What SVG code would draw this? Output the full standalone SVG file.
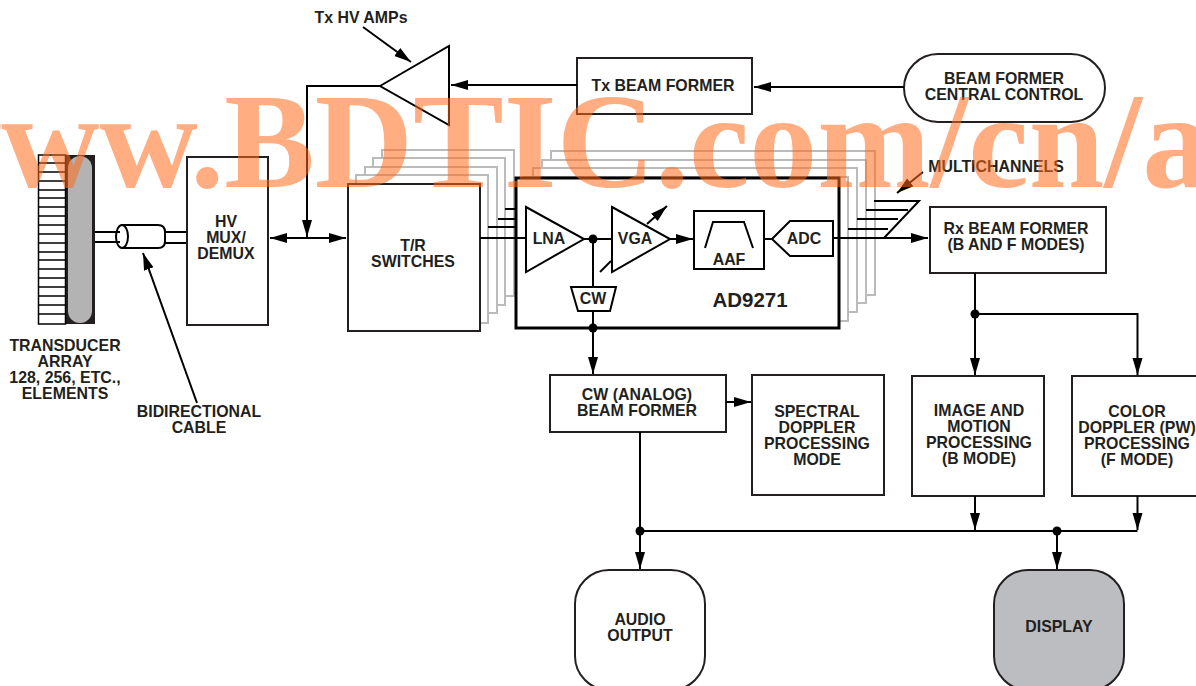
<svg xmlns="http://www.w3.org/2000/svg" width="1196" height="686" viewBox="0 0 1196 686">
<defs>
<marker id="a" markerUnits="userSpaceOnUse" markerWidth="18" markerHeight="12" refX="17" refY="5.500" orient="auto-start-reverse"><path d="M0 .5L17 5.500L0 10.500z" fill="#000"/></marker>
</defs>
<style>
text{font-family:"Liberation Sans",Arial,sans-serif;font-weight:700;font-size:15.900px;fill:#231f20;text-anchor:middle}
.b{fill:#fff;stroke:#231f20;stroke-width:2}
.k{fill:none;stroke:#000;stroke-width:2}
.g{fill:#fff;stroke:#bbb;stroke-width:2}
.d{fill:#000}
</style>
<rect width="1196" height="686" fill="#fff"/>
<g id="transducer">
<rect x="65" y="155" width="30" height="169" fill="#231f20"/>
<rect x="68" y="156" width="24" height="167" rx="12" fill="#b3b3b3"/>
<rect x="38.500" y="155" width="27" height="169" fill="#fff" stroke="#000" stroke-width="1.500"/>
<path class="k" style="stroke-width:1.300" d="M39 163H65M39 172H65M39 181H65M39 190H65M39 198H65M39 207H65M39 216H65M39 225H65M39 234H65M39 243H65M39 252H65M39 260H65M39 269H65M39 278H65M39 287H65M39 296H65M39 305H65M39 314H65"/>
<text x="65" y="351">TRANSDUCER</text><text x="65" y="367">ARRAY</text><text x="65" y="383">128, 256, ETC.,</text><text x="65" y="399">ELEMENTS</text>
</g>
<g id="cable">
<path class="k" d="M165 232H187M165 243H187"/>
<path d="M122 225H158Q165 225 165 232V241Q165 248 158 248H122z" class="k"/>
<ellipse cx="122" cy="236.500" rx="6" ry="11.500" class="k" style="fill:#fff"/>
<path class="k" d="M95 232H120M95 242H120"/>
<text x="199" y="417">BIDIRECTIONAL</text><text x="199" y="433">CABLE</text>
</g>
<g id="hvmux"><rect class="b" x="187" y="157" width="81" height="168"/><text x="226" y="227">HV</text><text x="226" y="243">MUX/</text><text x="226" y="259">DEMUX</text></g>
<g id="tr-stack">
<rect class="g" x="382" y="150" width="132" height="146"/><rect class="g" x="373" y="158" width="132" height="147"/><rect class="g" x="365" y="167" width="132" height="146"/><rect class="g" x="356" y="175" width="132" height="148"/>
</g>
<g id="tr"><rect class="b" x="348" y="184" width="132" height="147"/><text x="413" y="251">T/R</text><text x="413" y="267">SWITCHES</text></g>
<g id="ad-stack">
<rect class="g" x="551" y="151" width="324" height="144"/><rect class="g" x="542" y="160" width="324" height="143"/><rect class="g" x="533" y="168" width="324" height="144"/><rect class="g" x="524" y="177" width="324" height="144"/>
</g>
<g id="ad9271">
<rect x="516" y="178" width="323" height="150" fill="#fff" stroke="#000" stroke-width="3"/>
<text x="750" y="307" style="font-size:20.500px">AD9271</text>
</g>
<g id="lna"><path class="b" style="stroke:#000" d="M526 207L584 239L526 272z"/><text x="549" y="244">LNA</text></g>
<g id="vga"><path class="b" style="stroke:#000" d="M612 207L670 239L612 272z"/><text x="635" y="244">VGA</text></g>
<g id="aaf"><rect class="b" style="stroke:#000" x="694" y="211" width="70" height="58"/><path class="k" d="M705 248L713 222H744L753 248"/><text x="729" y="265">AAF</text></g>
<g id="adc"><path class="b" style="stroke:#000" d="M772 239L790 221H833V256H790z"/><text x="804" y="244">ADC</text></g>
<g id="cw"><path class="b" style="stroke:#000" d="M571 287H616L610 311H578z"/><text x="593" y="304">CW</text></g>
<g id="txamp"><path class="b" style="stroke:#000" d="M380 86L449 46V125z"/></g>
<g id="txbf"><rect class="b" x="577" y="58" width="175" height="56"/><text x="663" y="91">Tx BEAM FORMER</text></g>
<g id="central"><rect class="b" x="904" y="54" width="201" height="68" rx="34"/><text x="1004" y="84">BEAM FORMER</text><text x="1004" y="100">CENTRAL CONTROL</text></g>
<g id="rxbf"><rect class="b" x="930" y="207" width="176" height="66"/><text x="1016" y="234">Rx BEAM FORMER</text><text x="1016" y="250">(B AND F MODES)</text></g>
<g id="cwbf"><rect class="b" x="550" y="375" width="176" height="57"/><text x="637" y="400">CW (ANALOG)</text><text x="637" y="416">BEAM FORMER</text></g>
<g id="spectral"><rect class="b" x="752" y="375" width="132" height="120"/><text x="817" y="417">SPECTRAL</text><text x="817" y="433">DOPPLER</text><text x="817" y="449">PROCESSING</text><text x="817" y="465">MODE</text></g>
<g id="image"><rect class="b" x="912" y="376" width="132" height="120"/><text x="979" y="416">IMAGE AND</text><text x="979" y="432">MOTION</text><text x="979" y="448">PROCESSING</text><text x="979" y="464">(B MODE)</text></g>
<g id="color"><rect class="b" x="1072" y="376" width="132" height="120"/><text x="1137" y="417">COLOR</text><text x="1137" y="433">DOPPLER (PW)</text><text x="1137" y="449">PROCESSING</text><text x="1137" y="465">(F MODE)</text></g>
<g id="audio"><rect class="b" x="575" y="570" width="130" height="120" rx="34"/><text x="640" y="625">AUDIO</text><text x="640" y="641">OUTPUT</text></g>
<g id="display"><rect class="b" x="994" y="570" width="130" height="120" rx="34" style="fill:#bcbdc0"/><text x="1059" y="632">DISPLAY</text></g>
<g id="connectors">
<path class="k" marker-start="url(#a)" marker-end="url(#a)" d="M270 238H346"/>
<path class="k" marker-end="url(#a)" d="M380 86H307V237"/>
<path class="k" marker-end="url(#a)" d="M577 85H451"/>
<path class="k" marker-end="url(#a)" d="M904 87H754"/>
<path class="k" marker-end="url(#a)" d="M363 27L411 62"/>
<path class="k" marker-end="url(#a)" d="M197 403L143 253"/>
<path class="k" d="M480 238H526M488 227H516M498 219H516M505 209H516"/>
<path class="k" d="M584 239H612M593 239V287M593 311V328"/>
<path class="k" d="M600 272L611 261"/>
<path class="k" marker-end="url(#a)" d="M647 224L667 206"/>
<path class="k" marker-end="url(#a)" d="M670 239H693"/>
<path class="k" d="M764 239H772"/>
<path class="k" marker-end="url(#a)" d="M833 238H928"/>
<path class="k" d="M848 229H888M857 219H898M866 210H908M874 201H919L884 238"/>
<path class="k" marker-end="url(#a)" d="M923 172L897 193"/>
<path class="k" marker-end="url(#a)" d="M593 328V374"/>
<path class="k" marker-end="url(#a)" d="M726 402H751"/>
<path class="k" marker-end="url(#a)" d="M975 273V375"/>
<path class="k" marker-end="url(#a)" d="M975 314H1137.500V375"/>
<path class="k" marker-end="url(#a)" d="M640 432V569"/>
<path class="k" d="M640 531H1137.500"/>
<path class="k" marker-end="url(#a)" d="M975 496V530"/>
<path class="k" marker-end="url(#a)" d="M1137.500 496V530"/>
<path class="k" marker-end="url(#a)" d="M1057 531V569"/>
<circle class="d" cx="593" cy="239" r="4.500"/><circle class="d" cx="593" cy="328" r="4.500"/><circle class="d" cx="975" cy="314" r="4.500"/><circle class="d" cx="640" cy="531" r="4.500"/><circle class="d" cx="1057" cy="531" r="4.500"/>
</g>
<g id="labels"><text x="361" y="23">Tx HV AMPs</text><text x="996" y="172">MULTICHANNELS</text></g>
<text x="-97" y="187" style="font-family:'Liberation Serif',serif;font-size:136px;fill:#ff6a1a;fill-opacity:.55;text-anchor:start">www.BDTIC.com/cn/ad</text>
</svg>
